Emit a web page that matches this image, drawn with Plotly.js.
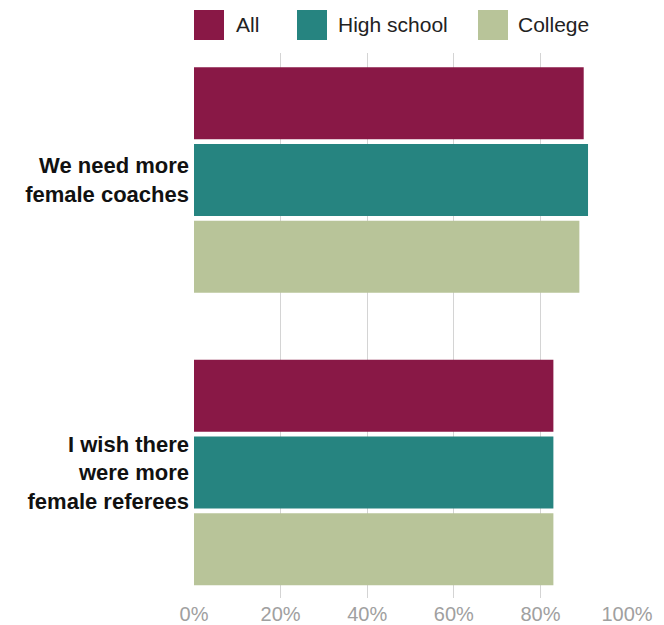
<!DOCTYPE html>
<html>
<head>
<meta charset="utf-8">
<script src="https://cdn.plot.ly/plotly-3.0.1.min.js"></script>
<style>html,body{margin:0;padding:0;background:#fff;}#chart{width:664px;height:625px;}</style>
</head>
<body>
<div id="chart"></div>
<script>
// Data
const categories = ["We need more<br>female coaches", "I wish there<br>were more<br>female referees"];
const seriesNames = ["All", "High school", "College"];
const allSeries = [90, 83];
const highSchoolSeries = [91, 83];
const collegeSeries = [89, 83];
const tickValues = [0, 20, 40, 60, 80, 100];
const tickLabels = ["0%", "20%", "40%", "60%", "80%", "100%"];

const colors = ["#891846", "#268480", "#B8C499"];
const seriesValues = [allSeries, highSchoolSeries, collegeSeries];

const FONT = '"Liberation Sans", Arial, Helvetica, sans-serif';
const W = 664, H = 625;
const M = {l: 194, r: 37, t: 53, b: 27};
const plotW = W - M.l - M.r, plotH = H - M.t - M.b;
const px = x => (x - M.l) / plotW;
const py = y => (H - M.b - y) / plotH;

const traces = seriesNames.map((name, i) => ({
  type: 'bar',
  orientation: 'h',
  name: name,
  y: categories,
  x: seriesValues[i],
  marker: {color: colors[i]},
  hoverinfo: 'x+name'
}));

// Custom legend (large square swatches)
const legendSquareX = [194, 297, 478];
const legendTextX = [234, 336, 516];
const shapes = seriesNames.map((n, i) => ({
  type: 'rect', xref: 'paper', yref: 'paper',
  x0: px(legendSquareX[i]), x1: px(legendSquareX[i] + 30),
  y0: py(40), y1: py(10),
  fillcolor: colors[i], line: {width: 0}
}));
const annotations = seriesNames.map((n, i) => ({
  xref: 'paper', yref: 'paper',
  x: px(legendTextX[i]), y: py(24),
  xanchor: 'left', yanchor: 'middle',
  text: n, showarrow: false,
  font: {family: FONT, size: 21, color: '#222'}
}));

const layout = {
  width: W, height: H,
  margin: M,
  paper_bgcolor: '#fff', plot_bgcolor: '#fff',
  barmode: 'group',
  bargap: 0.213,
  bargroupgap: 0.06,
  showlegend: false,
  xaxis: {
    range: [0, 100],
    tickvals: tickValues,
    ticktext: tickLabels,
    showgrid: true,
    gridcolor: '#d4d4d4',
    gridwidth: 1,
    zeroline: false,
    showline: false,
    ticks: '',
    ticklabelstandoff: 2,
    tickfont: {family: FONT, size: 20, color: '#a0a0a0'},
    fixedrange: true
  },
  yaxis: {
    type: 'category',
    range: [1.429, -0.434],
    showgrid: false,
    zeroline: false,
    showline: false,
    ticks: '',
    ticklabelstandoff: 4,
    tickfont: {family: FONT, size: 22, weight: 700, color: '#111'},
    fixedrange: true
  },
  shapes: shapes,
  annotations: annotations
};

Plotly.newPlot('chart', traces, layout, {displayModeBar: false, staticPlot: true});
</script>
</body>
</html>
